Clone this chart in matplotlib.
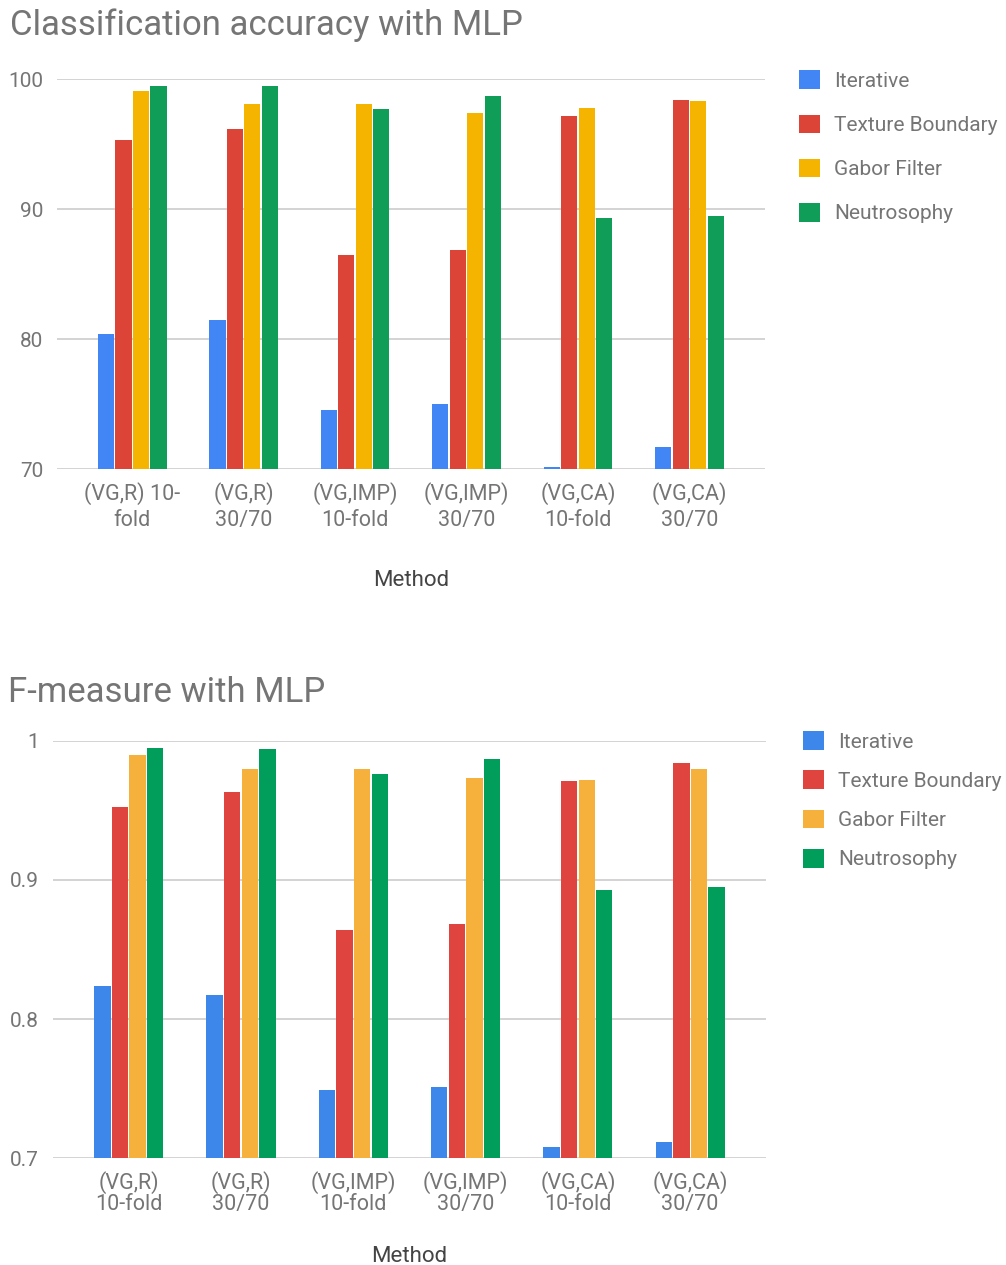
import numpy as np
import matplotlib
matplotlib.use("Agg")
from matplotlib import pyplot as plt
from matplotlib.patches import Patch

plt.rcParams['font.family'] = ['Roboto', 'DejaVu Sans']

series = ["Iterative", "Texture Boundary", "Gabor Filter", "Neutrosophy"]

acc_labels = ["(VG,R) 10-\nfold", "(VG,R)\n30/70", "(VG,IMP)\n10-fold",
              "(VG,IMP)\n30/70", "(VG,CA)\n10-fold", "(VG,CA)\n30/70"]
fm_labels = ["(VG,R)\n10-fold", "(VG,R)\n30/70", "(VG,IMP)\n10-fold",
             "(VG,IMP)\n30/70", "(VG,CA)\n10-fold", "(VG,CA)\n30/70"]

# classification accuracy (%)
acc_iterative = [80.4, 81.5, 74.6, 75.0, 70.2, 71.7]
acc_texture = [95.3, 96.2, 86.5, 86.9, 97.2, 98.4]
acc_gabor = [99.1, 98.1, 98.1, 97.4, 97.8, 98.3]
acc_neutro = [99.5, 99.5, 97.7, 98.7, 89.3, 89.5]

# F-measure
fm_iterative = [0.824, 0.817, 0.749, 0.751, 0.708, 0.712]
fm_texture = [0.952, 0.963, 0.864, 0.868, 0.971, 0.984]
fm_gabor = [0.990, 0.980, 0.980, 0.973, 0.972, 0.980]
fm_neutro = [0.995, 0.994, 0.976, 0.987, 0.893, 0.895]

top_colors = ['#4285F4', '#DB4437', '#F4B400', '#0F9D58']
bottom_colors = ['#3D87EA', '#E0443E', '#F6B13C', '#009D5B']

TEXT_GREY = '#757575'

fig = plt.figure(figsize=(10.06, 12.65), dpi=100)


def bar_panel(rect, data, colors, xlabels, ylim, yticks, yticklabels,
              linespacing, labelpad):
    ax = fig.add_axes(rect)
    x = np.arange(len(xlabels))
    step = 0.157
    for i, (vals, col) in enumerate(zip(data, colors)):
        ax.bar(x + (i - 1.5) * step, vals, width=0.145, color=col,
               bottom=0, zorder=3)
    ax.set_ylim(*ylim)
    ax.set_xlim(-0.675, len(xlabels) - 1 + 0.675)
    ax.set_yticks(yticks)
    ax.set_yticklabels(yticklabels)
    ax.set_xticks(x)
    ax.set_xticklabels(xlabels, fontsize=15.5, linespacing=linespacing)
    ax.tick_params(axis='y', length=0, pad=10, labelsize=15,
                   labelcolor=TEXT_GREY)
    ax.tick_params(axis='x', length=0, pad=9, labelcolor=TEXT_GREY)
    ax.yaxis.grid(True, color='#cccccc', linewidth=1.2, zorder=0)
    ax.set_axisbelow(True)
    for s in ax.spines.values():
        s.set_visible(False)
    ax.set_xlabel("Method", fontsize=16, color='#444444', labelpad=labelpad)
    return ax


ax1 = bar_panel([0.0567, 0.629, 0.7033, 0.3083],
                [acc_iterative, acc_texture, acc_gabor, acc_neutro],
                top_colors, acc_labels, (70, 100), [70, 80, 90, 100],
                ["70", "80", "90", "100"], 1.3, 28.5)
ax2 = bar_panel([0.0527, 0.0843, 0.7087, 0.3302],
                [fm_iterative, fm_texture, fm_gabor, fm_neutro],
                bottom_colors, fm_labels, (0.7, 1.0), [0.7, 0.8, 0.9, 1.0],
                ["0.7", "0.8", "0.9", "1"], 1.0, 22.5)

fig.text(0.0099, 0.9723, "Classification accuracy with MLP", fontsize=25,
         color=TEXT_GREY, va='baseline', ha='left')
fig.text(0.0079, 0.445, "F-measure with MLP", fontsize=25,
         color=TEXT_GREY, va='baseline', ha='left')

handles_top = [Patch(facecolor=c, label=s) for c, s in zip(top_colors, series)]
handles_bottom = [Patch(facecolor=c, label=s) for c, s in zip(bottom_colors, series)]

fig.legend(handles=handles_top, loc='upper left',
           bbox_to_anchor=(0.786, 0.951), frameon=False, fontsize=15,
           handlelength=1.0, handleheight=1.0, handletextpad=0.7,
           labelspacing=1.14, labelcolor=TEXT_GREY, borderaxespad=0)
fig.legend(handles=handles_bottom, loc='upper left',
           bbox_to_anchor=(0.79, 0.4285), frameon=False, fontsize=15,
           handlelength=1.0, handleheight=1.0, handletextpad=0.7,
           labelspacing=0.90, labelcolor=TEXT_GREY, borderaxespad=0)

fig.savefig("out.png", dpi=100)
